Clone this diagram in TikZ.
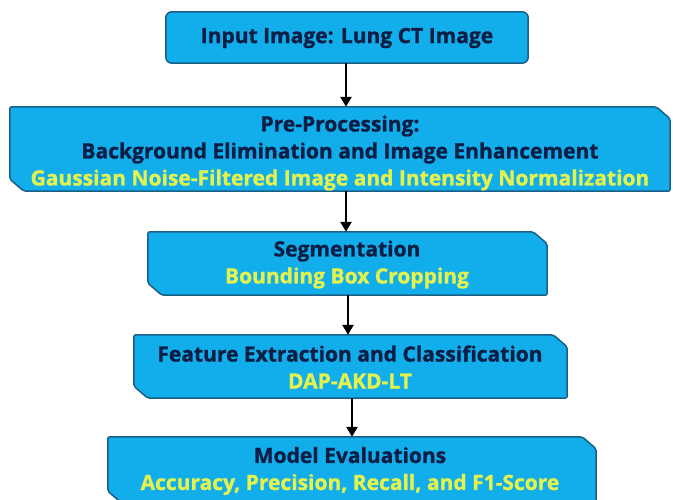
\documentclass[tikz,border=0pt]{standalone}
\usepackage{fontspec}
\setmainfont{Open Sans}[BoldFeatures={FakeBold=1.2}]
\usetikzlibrary{calc,arrows.meta}
\definecolor{boxfill}{HTML}{12AEEB}
\definecolor{boxline}{HTML}{1A5F86}
\definecolor{navy}{HTML}{0B1E45}
\definecolor{ylw}{HTML}{E4F24E}
\tikzset{
  slot/.style={rectangle, draw=none, inner sep=0pt},
  outline/.style={draw=boxline, line width=1.5pt, fill=boxfill},
  txt/.style={font=\fontsize{21}{27}\selectfont\bfseries, align=center, text=navy, inner sep=0pt},
  flow/.style={line width=2.6pt, -{Triangle[length=10pt,width=11pt]}},
}
\newcommand{\yl}[1]{\textcolor{ylw}{#1}}
\newcommand{\snipbox}[1]{%
  \path[outline, rounded corners=2pt] (#1.north west) -- ($(#1.north east)+(-14,0)$) -- ($(#1.north east)+(0,-12)$)
    -- (#1.south east) -- ($(#1.south west)+(14,0)$) -- ($(#1.south west)+(0,12)$) -- cycle;}
\begin{document}
\begin{tikzpicture}[x=1pt,y=1pt]
\useasboundingbox (0,0) rectangle (673,500);
\clip (0,0) rectangle (673,500);
% box slots (y measured upward: y = 500 - pixel row)
\node[slot, minimum width=362pt, minimum height=51pt] (b1) at (347,462.5) {};
\node[slot, minimum width=660pt, minimum height=84pt] (b2) at (340,351) {};
\node[slot, minimum width=399pt, minimum height=63pt] (b3) at (347.5,236.5) {};
\node[slot, minimum width=433pt, minimum height=63pt] (b4) at (350.5,133.5) {};
\node[slot, minimum width=488pt, minimum height=66pt] (b5) at (352,30) {};
\path[outline, rounded corners=6pt] (b1.north west) rectangle (b1.south east);
\snipbox{b2}
\snipbox{b3}
\snipbox{b4}
\snipbox{b5}
% texts
\node[txt] (t1) at (347,462) {Input Image: Lung CT Image};
\node[txt] (t2) at (340,347) {Pre-Processing:\\Background Elimination and Image Enhancement\\\yl{Gaussian Noise-Filtered Image and Intensity Normalization}};
\node[txt] (t3) at (347,235.5) {Segmentation\\\yl{Bounding Box Cropping}};
\node[txt] (t4) at (350,133) {Feature Extraction and Classification\\\yl{DAP-AKD-LT}};
\node[txt] (t5) at (350,29) {Model Evaluations\\\yl{Accuracy, Precision, Recall, and F1-Score}};
% connectors
\draw[flow] (b1.south -| 346,0) -- (b2.north -| 346,0);
\draw[flow] (b2.south -| 346,0) -- (b3.north -| 346,0);
\draw[flow] (b3.south -| 348,0) -- (b4.north -| 348,0);
\draw[flow] (b4.south -| 352,0) -- (b5.north -| 352,0);
\end{tikzpicture}
\end{document}
